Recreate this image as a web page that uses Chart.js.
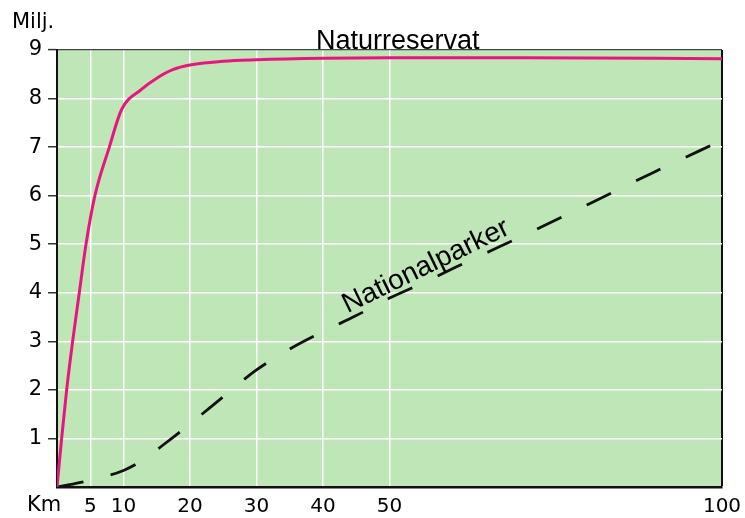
<!DOCTYPE html>
<html>
<head>
<meta charset="utf-8">
<script src="https://cdn.jsdelivr.net/npm/chart.js@4.4.1/dist/chart.umd.min.js"></script>
<style>
html,body{margin:0;padding:0;background:#fff;}
#wrap{width:745px;height:518px;position:relative;}
</style>
</head>
<body>
<div id="wrap"><canvas id="c" width="745" height="518"></canvas></div>
<script>
// ---- data ----
const xTickValues = [0, 5, 10, 20, 30, 40, 50, 100];
const xTickLabels = ['', '5', '10', '20', '30', '40', '50', '100'];
const yTickValues = [0, 1, 2, 3, 4, 5, 6, 7, 8, 9];

const naturX = [0, 0.7, 1.45, 2.35, 3.35, 4.36, 5.7, 7.87, 9.7, 12.7, 15, 17.5, 20, 25, 30, 40, 50, 70, 100];
const naturY = [0, 1, 2, 3, 4, 5, 6, 7, 7.77, 8.19, 8.42, 8.6, 8.69, 8.77, 8.8, 8.83, 8.84, 8.84, 8.82];

const nationX = [0, 5, 10, 12.5, 16, 20, 25, 30, 35, 40, 45, 50, 55, 60, 65, 70, 80, 90, 100];
const nationY = [0, 0.14, 0.34, 0.52, 0.87, 1.3, 1.86, 2.41, 2.84, 3.2, 3.53, 3.89, 4.2, 4.53, 4.85, 5.17, 5.83, 6.5, 7.14];

const titleText = 'Naturreservat';
const seriesLabel = 'Nationalparker';
const yUnit = 'Milj.';
const xUnit = 'Km';

const toPts = (xs, ys) => xs.map((x, i) => ({x: x, y: ys[i]}));

const bgPlugin = {
  id: 'bg',
  beforeDraw(chart) {
    const {ctx, chartArea: a} = chart;
    ctx.save();
    ctx.fillStyle = '#bfe6b7';
    ctx.fillRect(a.left, a.top, a.right - a.left, a.bottom - a.top);
    ctx.restore();
  }
};

const textPlugin = {
  id: 'texts',
  afterDraw(chart) {
    const ctx = chart.ctx;
    const xs = chart.scales.x, ys = chart.scales.y;
    ctx.save();
    ctx.fillStyle = '#000';
    // unit labels
    ctx.font = '21px "DejaVu Sans"';
    ctx.textAlign = 'left';
    ctx.textBaseline = 'alphabetic';
    ctx.fillText(yUnit, 12, 28);
    ctx.fillText(xUnit, 27, 511);
    // title over the plot
    ctx.font = '27px "Liberation Sans", Arial, sans-serif';
    ctx.fillText(titleText, 316, 49);
    // series label along the dashed line
    ctx.font = '28px "Liberation Sans", Arial, sans-serif';
    const px = xs.getPixelForValue(56), py = ys.getPixelForValue(4.4);
    ctx.translate(px, py);
    ctx.rotate(-26 * Math.PI / 180);
    ctx.textAlign = 'center';
    ctx.fillText(seriesLabel, 0, 0);
    ctx.restore();
  }
};

new Chart(document.getElementById('c'), {
  type: 'line',
  data: {
    datasets: [
      {
        label: titleText,
        data: toPts(naturX, naturY),
        borderColor: '#e8167c',
        borderWidth: 3,
        pointRadius: 0,
        cubicInterpolationMode: 'monotone',
        fill: false
      },
      {
        label: seriesLabel,
        data: toPts(nationX, nationY),
        borderColor: '#111',
        borderWidth: 2.8,
        borderDash: [27, 28],
        borderCapStyle: 'butt',
        pointRadius: 0,
        cubicInterpolationMode: 'monotone',
        fill: false
      }
    ]
  },
  options: {
    responsive: false,
    animation: false,
    events: [],
    layout: {padding: {top: 50, right: 23, left: 0, bottom: 0}},
    plugins: {legend: {display: false}, tooltip: {enabled: false}, title: {display: false}},
    scales: {
      x: {
        type: 'linear',
        min: 0, max: 100,
        afterBuildTicks(scale) { scale.ticks = xTickValues.map(v => ({value: v})); },
        afterFit(scale) { scale.height = 31; scale.paddingRight = 0; scale.paddingLeft = 0; },
        ticks: {
          autoSkip: false,
          maxRotation: 0,
          padding: 8,
          color: '#000',
          font: {family: 'DejaVu Sans', size: 20},
          callback: (v) => { const i = xTickValues.indexOf(v); return i >= 0 ? xTickLabels[i] : ''; }
        },
        grid: {
          drawTicks: false,
          color: (c) => (c.tick && c.tick.value === 100) ? '#111' : ((c.tick && c.tick.value === 0) ? 'rgba(0,0,0,0)' : '#ffffff'),
          lineWidth: (c) => (c.tick && c.tick.value === 100) ? 2 : 1.5
        },
        border: {display: true, color: '#111', width: 2.5}
      },
      y: {
        type: 'linear',
        min: 0, max: 9,
        afterBuildTicks(scale) { scale.ticks = yTickValues.map(v => ({value: v})); },
        afterFit(scale) { scale.width = 57; scale.paddingTop = 0; scale.paddingBottom = 0; },
        ticks: {
          padding: 6,
          color: '#000',
          font: {family: 'DejaVu Sans', size: 21},
          callback: (v) => v === 0 ? '' : String(v)
        },
        grid: {
          drawTicks: true,
          tickLength: 9,
          tickWidth: 1.5,
          tickColor: (c) => (c.tick && c.tick.value === 0) ? 'rgba(0,0,0,0)' : '#333',
          color: (c) => (c.tick && c.tick.value === 9) ? '#444' : ((c.tick && c.tick.value === 0) ? 'rgba(0,0,0,0)' : '#ffffff'),
          lineWidth: (c) => (c.tick && c.tick.value === 9) ? 1.2 : 1.5
        },
        border: {display: true, color: '#111', width: 2}
      }
    }
  },
  plugins: [bgPlugin, textPlugin]
});
</script>
</body>
</html>
